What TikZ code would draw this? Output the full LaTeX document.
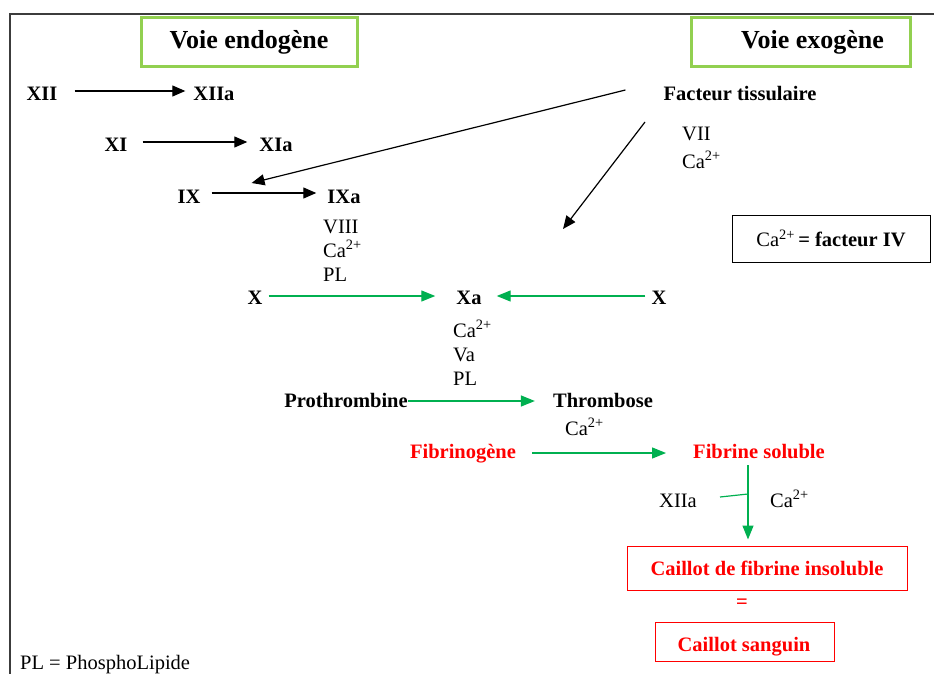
\documentclass[tikz,border=0pt]{standalone}
\usepackage{fontspec}
\setmainfont{Liberation Serif}
\usetikzlibrary{arrows.meta}
\definecolor{boxgreen}{RGB}{146,208,80}
\definecolor{arrgreen}{RGB}{0,176,80}
\definecolor{myred}{RGB}{255,0,0}
\definecolor{framegray}{RGB}{60,60,60}
\begin{document}
\begin{tikzpicture}[x=1pt,y=-1pt,
  bl/.style={font=\fontsize{20.5}{24}\selectfont\bfseries, inner sep=0pt, anchor=base},
  rg/.style={font=\fontsize{20.5}{24}\selectfont, inner sep=0pt, anchor=base west},
  rgc/.style={font=\fontsize{20.5}{24}\selectfont, inner sep=0pt, anchor=base},
  voie/.style={draw=boxgreen, line width=3pt, font=\fontsize{26}{30}\selectfont\bfseries, inner sep=0pt},
  redbox/.style={draw=myred, line width=1pt, inner sep=0pt},
  karr/.style={draw=black, line width=1.2pt, -{Triangle[length=13pt,width=11pt]}},
  garr/.style={draw=arrgreen, line width=1.3pt, -{Triangle[length=14pt,width=11pt]}}]
\useasboundingbox (0,0) rectangle (934,674);
\draw[framegray, line width=1.5pt] (934,14) -- (10,14) -- (10,674);

% header boxes
\node[voie, minimum width=216pt, minimum height=49pt] (endo) at (249,42.5) {Voie endogène};
\node[voie, minimum width=219pt, minimum height=49pt] (exo) at (800.5,42.5) {\hspace*{24pt}Voie exogène};

% intrinsic pathway
\node[bl] (XII) at (42,101) {XII};
\node[bl] (XIIa) at (214,101) {XIIa};
\draw[karr] ([xshift=17pt,yshift=10pt]XII.base east) -- ([xshift=-8pt,yshift=10pt]XIIa.base west);

\node[bl] (XI) at (116,152) {XI};
\node[bl] (XIa) at (276,152) {XIa};
\draw[karr] ([xshift=15pt,yshift=10pt]XI.base east) -- ([xshift=-12pt,yshift=10pt]XIa.base west);

\node[bl] (IX) at (189,203) {IX};
\node[bl] (IXa) at (344,203) {IXa};
\draw[karr] ([xshift=11pt,yshift=10pt]IX.base east) -- ([xshift=-11pt,yshift=10pt]IXa.base west);

\node[rg] (viii) at (323,233) {VIII};
\node[rg] (ca1) at (323,257) {Ca\textsuperscript{2+}};
\node[rg] (pl1) at (323,281) {PL};

% extrinsic pathway
\node[bl] (FT) at (740,101) {Facteur tissulaire};
\node[rg] (vii) at (682,141) {VII};
\node[rg] (ca2) at (682,168) {Ca\textsuperscript{2+}};
\draw[karr] ([xshift=-38pt,yshift=4pt]FT.west) -- ([xshift=51pt,yshift=20pt]IX.base east);
\coordinate (exoend) at (563,229);
\draw[karr] ([xshift=-95pt,yshift=-21pt]FT.base) -- (exoend);

\node[draw=black, line width=1pt, minimum width=198pt, minimum height=47pt, inner sep=0pt,
  font=\fontsize{20.5}{24}\selectfont] (cafiv) at (831,238.5) {Ca\textsuperscript{2+}\,\textbf{= facteur IV}};

% common pathway
\node[bl] (Xl) at (255,304) {X};
\node[bl] (Xa) at (469,304) {Xa};
\node[bl] (Xr) at (659,304) {X};
\draw[garr] ([xshift=6pt,yshift=8pt]Xl.base east) -- ([xshift=-21pt,yshift=8pt]Xa.base west);
\draw[garr] ([xshift=-6pt,yshift=8pt]Xr.base west) -- ([xshift=15pt,yshift=8pt]Xa.base east);

\node[rg] (ca3) at (453,337) {Ca\textsuperscript{2+}};
\node[rg] (va) at (453,361) {Va};
\node[rg] (pl2) at (453,385) {PL};

\node[bl] (pro) at (346,407) {Prothrombine};
\node[bl] (thr) at (603,407) {Thrombose};
\draw[garr] ([yshift=6pt]pro.base east) -- ([xshift=-18pt,yshift=6pt]thr.base west);
\node[rg] (ca4) at (565,435) {Ca\textsuperscript{2+}};

\node[bl, text=myred] (fgn) at (463,458) {Fibrinogène};
\node[bl, text=myred] (fs) at (759,458) {Fibrine soluble};
\draw[garr] ([xshift=16pt,yshift=5pt]fgn.base east) -- ([xshift=-27pt,yshift=5pt]fs.base west);

\node[redbox, text=myred, minimum width=280pt, minimum height=44pt,
  font=\fontsize{20.5}{24}\selectfont\bfseries] (cfi) at (767,568) {Caillot de fibrine insoluble};
\coordinate (vtop) at ([xshift=-11pt,yshift=-7pt]fs.base);
\draw[garr] (vtop) -- ([yshift=6pt]vtop |- cfi.north);
\coordinate (tk) at (720,497);
\draw[arrgreen, line width=1.2pt] (tk) -- ([yshift=-29pt]vtop);
\node[rgc] (xiia2) at (678,507) {XIIa};
\node[rg] (ca5) at (770,507) {Ca\textsuperscript{2+}};

\node[bl, text=myred] (eq) at (742,608) {=};
\node[redbox, minimum width=179pt, minimum height=39pt] (cs) at (744.5,641.5) {};
\node[bl, text=myred] (cstext) at (744,651) {Caillot sanguin};

\node[rg] (legend) at (20,669) {PL = PhosphoLipide};
\end{tikzpicture}
\end{document}
